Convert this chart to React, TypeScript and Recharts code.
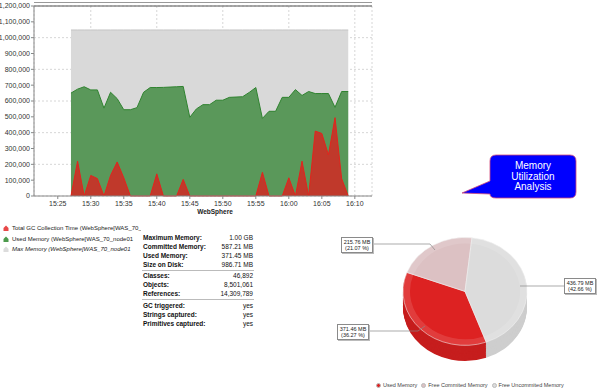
import React from "react";
import {
  AreaChart,
  Area,
  XAxis,
  YAxis,
  CartesianGrid,
  ReferenceLine,
  PieChart,
  Pie,
  Cell,
} from "recharts";

// minutes past 15:00
const minutes = [
  27, 28, 29, 30, 31, 32, 33, 34, 35, 36, 37, 38, 39, 40, 41, 42, 43, 44, 45, 46, 47, 48,
  49, 50, 51, 52, 53, 54, 55, 56, 57, 58, 59, 60, 61, 62, 63, 64, 65, 66, 67, 68, 69,
];

const usedMemory = [
  650000, 675000, 690000, 670000, 670000, 555000, 655000, 615000, 545000, 545000, 558000,
  655000, 685000, 685000, 686000, 688000, 690000, 692000, 497000, 550000, 577000, 577000,
  605000, 605000, 623000, 625000, 627000, 654000, 685000, 490000, 535000, 535000, 623000,
  623000, 672000, 635000, 660000, 647000, 647000, 647000, 560000, 660000, 660000,
];

const gcTime = [
  0, 220000, 0, 130000, 110000, 0, 130000, 215000, 115000, 0, 0, 0, 0, 140000, 0, 0, 0,
  105000, 0, 0, 0, 0, 0, 0, 0, 0, 0, 0, 0, 150000, 0, 0, 0, 115000, 0, 220000, 0, 410000,
  395000, 260000, 495000, 110000, 0,
];

const maxMemory = [
  1048576, 1048576, 1048576, 1048576, 1048576, 1048576, 1048576, 1048576, 1048576, 1048576,
  1048576, 1048576, 1048576, 1048576, 1048576, 1048576, 1048576, 1048576, 1048576, 1048576,
  1048576, 1048576, 1048576, 1048576, 1048576, 1048576, 1048576, 1048576, 1048576, 1048576,
  1048576, 1048576, 1048576, 1048576, 1048576, 1048576, 1048576, 1048576, 1048576, 1048576,
  1048576, 1048576, 1048576,
];

const xTicks = [25, 30, 35, 40, 45, 50, 55, 60, 65, 70];
const yTicks = [
  0, 100000, 200000, 300000, 400000, 500000, 600000, 700000, 800000, 900000, 1000000,
  1100000, 1200000,
];

const legendItems = [
  "Total GC Collection Time (WebSphere[WAS_70_",
  "Used Memory (WebSphere[WAS_70_node01",
  "Max Memory (WebSphere[WAS_70_node01",
];

const memLabels = ["Maximum Memory:", "Committed Memory:", "Used Memory:", "Size on Disk:"];
const memValues = ["1.00 GB", "587.21 MB", "371.45 MB", "986.71 MB"];
const heapLabels = ["Classes:", "Objects:", "References:"];
const heapValues = ["46,892", "8,501,061", "14,309,789"];
const flagLabels = ["GC triggered:", "Strings captured:", "Primitives captured:"];
const flagValues = ["yes", "yes", "yes"];

const pieNames = ["Used Memory", "Free Commited Memory", "Free Uncommited Memory"];
const pieMB = [371.46, 215.76, 436.79];
const piePct = [36.27, 21.07, 42.66];

const PIE_TOP = ["#dd2222", "#dcc1c3", "#dcdcdc"];
const PIE_SIDE = ["#c61e1e", "#cdb2b4", "#cecece"];

const rows = minutes.map((m, i) => ({
  m,
  used: usedMemory[i],
  gc: gcTime[i],
  max: maxMemory[i],
}));

const pieData = pieNames.map((name, i) => ({ name, value: pieMB[i] }));

const fmtTime = (m: number) => {
  const h = 15 + Math.floor(m / 60);
  const mm = m % 60;
  return `${h}:${mm < 10 ? "0" + mm : mm}`;
};

const FONT = "'Liberation Sans', Arial, sans-serif";
const SIDE_STEPS = Array.from({ length: 18 }, (_, i) => 18 - i);

function LegendIcon({ color }: { color: string }) {
  return (
    <svg width={6} height={6} style={{ marginRight: 3, flexShrink: 0 }}>
      <path d="M0.5 6 L0.5 3 L3 0.5 L5.5 3 L5.5 6 Z" fill={color} />
    </svg>
  );
}

function StatGroup({ top, labels, values }: { top: number; labels: string[]; values: string[] }) {
  return (
    <div style={{ position: "absolute", left: 143, top, width: 110 }}>
      {labels.map((l, i) => (
        <div
          key={l}
          style={{ display: "flex", justifyContent: "space-between", height: 9, lineHeight: "9px" }}
        >
          <span style={{ fontWeight: "bold" }}>{l}</span>
          <span>{values[i]}</span>
        </div>
      ))}
    </div>
  );
}

function PieLabel({ left, top, i }: { left: number; top: number; i: number }) {
  return (
    <div
      style={{
        position: "absolute",
        left,
        top,
        width: 30,
        padding: "1px 0",
        background: "#fff",
        border: "1px solid #8a8a8a",
        boxShadow: "1px 1px 0 #bbb",
        fontSize: 5.5,
        lineHeight: "6px",
        textAlign: "center",
        color: "#222",
      }}
    >
      <div>{pieMB[i].toFixed(2)} MB</div>
      <div>({piePct[i].toFixed(2)} %)</div>
    </div>
  );
}

export default function App() {
  return (
    <div
      style={{
        position: "absolute",
        left: 0,
        top: 0,
        width: 600,
        height: 391,
        background: "#fff",
        overflow: "hidden",
        fontFamily: FONT,
        color: "#222",
      }}
    >
      <div style={{ position: "absolute", left: 34, top: 2, width: 338, height: 0, borderTop: "1px solid #999" }} />
      <div style={{ position: "absolute", left: 0, top: 0 }}>
        <AreaChart width={380} height={218} data={rows} margin={{ top: 6, right: 8, left: 0, bottom: 0 }}>
          <CartesianGrid strokeDasharray="2 2" stroke="#d6d6d6" />
          <XAxis
            dataKey="m"
            type="number"
            domain={[21.4, 72.6]}
            ticks={xTicks}
            allowDataOverflow
            tickFormatter={fmtTime}
            height={22}
            tickSize={3}
            tickMargin={2}
            stroke="#888"
            tick={{ fontSize: 7, fill: "#333", fontFamily: FONT }}
          />
          <YAxis
            domain={[0, 1200000]}
            ticks={yTicks}
            width={34}
            tickSize={3}
            tickMargin={1}
            stroke="#888"
            tickFormatter={(v: number) => v.toLocaleString("en-US")}
            tick={{ fontSize: 7, fill: "#333", fontFamily: FONT }}
          />
          <ReferenceLine y={1200000} stroke="#555" strokeWidth={1.2} />
          <Area
            type="linear"
            dataKey="max"
            stroke="#c4c4c4"
            strokeWidth={1}
            fill="#d9d9d9"
            fillOpacity={1}
            isAnimationActive={false}
          />
          <Area
            type="linear"
            dataKey="used"
            stroke="#2f832f"
            strokeWidth={1}
            fill="#5a985a"
            fillOpacity={1}
            isAnimationActive={false}
          />
          <Area
            type="linear"
            dataKey="gc"
            stroke="#e4231c"
            strokeWidth={1}
            fill="#c0392b"
            fillOpacity={1}
            isAnimationActive={false}
          />
        </AreaChart>
      </div>
      <div
        style={{
          position: "absolute",
          left: 180,
          top: 207,
          width: 70,
          textAlign: "center",
          fontSize: 6.5,
          fontWeight: "bold",
          lineHeight: "10px",
        }}
      >
        WebSphere
      </div>

      {/* series legend */}
      <div style={{ position: "absolute", left: 3, top: 223, width: 138, overflow: "hidden", fontSize: 6 }}>
        {legendItems.map((t, i) => (
          <div
            key={t}
            style={{
              display: "flex",
              alignItems: "center",
              height: 10.5,
              whiteSpace: "nowrap",
              fontStyle: i === 2 ? "italic" : "normal",
            }}
          >
            <LegendIcon color={["#e84848", "#4c9a4c", "#dcdcdc"][i]} />
            {t}
          </div>
        ))}
      </div>

      {/* stats table */}
      <div style={{ fontSize: 6.5, color: "#111" }}>
        <StatGroup top={232.5} labels={memLabels} values={memValues} />
        <div style={{ position: "absolute", left: 142, top: 269.5, width: 112, borderTop: "1px solid #bbb" }} />
        <StatGroup top={270.5} labels={heapLabels} values={heapValues} />
        <div style={{ position: "absolute", left: 142, top: 298.5, width: 112, borderTop: "1px solid #bbb" }} />
        <StatGroup top={300.5} labels={flagLabels} values={flagValues} />
      </div>

      {/* callout */}
      <svg width={600} height={391} style={{ position: "absolute", left: 0, top: 0 }}>
        <path
          d="M496 155 H570 Q576 155 576 161 V192 Q576 198 570 198 H496 Q490 198 490 194 L462 193 L490 181 V161 Q490 155 496 155 Z"
          fill="#0000ff"
          stroke="#d04a7a"
          strokeWidth={0.8}
        />
        <text x={533} y={169} textAnchor="middle" fill="#fff" fontSize={10} fontFamily={FONT}>
          Memory
        </text>
        <text x={533} y={179.5} textAnchor="middle" fill="#fff" fontSize={10} fontFamily={FONT}>
          Utilization
        </text>
        <text x={533} y={190} textAnchor="middle" fill="#fff" fontSize={10} fontFamily={FONT}>
          Analysis
        </text>
      </svg>

      {/* 3D pie */}
      <div
        style={{
          position: "absolute",
          left: 395,
          top: 233.6,
          width: 140,
          height: 150,
          transform: "scaleY(0.87)",
          transformOrigin: "0 0",
        }}
      >
        <PieChart width={140} height={150} margin={{ top: 0, right: 0, bottom: 0, left: 0 }}>
          {SIDE_STEPS.map((d) => (
            <Pie
              key={d}
              data={pieData}
              dataKey="value"
              cx={70}
              cy={66 + d}
              outerRadius={62}
              startAngle={-70}
              endAngle={-430}
              stroke="none"
              isAnimationActive={false}
            >
              {pieData.map((_, i) => (
                <Cell key={i} fill={PIE_SIDE[i]} />
              ))}
            </Pie>
          ))}
          <Pie
            data={pieData}
            dataKey="value"
            cx={70}
            cy={66}
            outerRadius={62}
            startAngle={-70}
            endAngle={-430}
            stroke="#f2f2f2"
            strokeWidth={0.6}
            isAnimationActive={false}
          >
            {pieData.map((_, i) => (
              <Cell key={i} fill={PIE_TOP[i]} />
            ))}
          </Pie>
          <Pie
            data={pieData}
            dataKey="value"
            cx={70}
            cy={66}
            innerRadius={55}
            outerRadius={62}
            startAngle={-70}
            endAngle={-430}
            stroke="none"
            isAnimationActive={false}
          >
            {pieData.map((_, i) => (
              <Cell key={i} fill="#ffffff" fillOpacity={0.12} />
            ))}
          </Pie>
        </PieChart>
      </div>

      {/* pie leader lines */}
      <svg width={600} height={391} style={{ position: "absolute", left: 0, top: 0 }}>
        <polyline points="372,244 430,244 435,250" fill="none" stroke="#888" strokeWidth={0.7} />
        <polyline points="565,286 520,286" fill="none" stroke="#888" strokeWidth={0.7} />
        <polyline points="368,331 418,331 425,326" fill="none" stroke="#888" strokeWidth={0.7} />
      </svg>
      <PieLabel left={341} top={237} i={1} />
      <PieLabel left={564} top={278} i={2} />
      <PieLabel left={337} top={324} i={0} />

      {/* pie legend */}
      <div
        style={{
          position: "absolute",
          left: 376,
          top: 381,
          display: "flex",
          alignItems: "center",
          fontSize: 5.5,
          lineHeight: "8px",
          color: "#444",
          whiteSpace: "nowrap",
        }}
      >
        {pieNames.map((n, i) => (
          <span key={n} style={{ display: "flex", alignItems: "center", marginRight: 4 }}>
            <span
              style={{
                width: 5,
                height: 5,
                borderRadius: "50%",
                background: PIE_TOP[i],
                border: "0.5px solid #bbb",
                boxSizing: "border-box",
                marginRight: 2,
              }}
            />
            {n}
          </span>
        ))}
      </div>
    </div>
  );
}
